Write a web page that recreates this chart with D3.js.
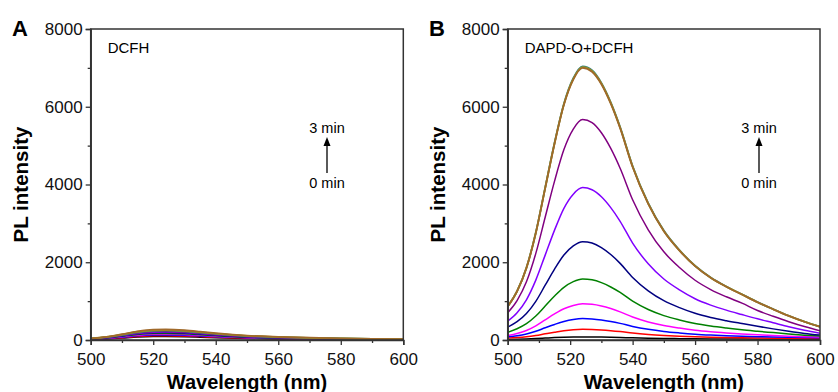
<!DOCTYPE html>
<html>
<head>
<meta charset="utf-8">
<script src="https://cdn.jsdelivr.net/npm/d3@7"></script>
<style>
  html, body { margin: 0; padding: 0; background: #fff; }
  svg { display: block; font-family: "Liberation Sans", Arial, sans-serif; }
</style>
</head>
<body>
<svg id="chart" width="838" height="392"></svg>
<script>
// ---- Data -------------------------------------------------------------
const yTicks = [0, 2000, 4000, 6000, 8000];
const xTicks = [500, 520, 540, 560, 580, 600];

// Panel A: DCFH alone, spectra recorded 0 -> 3 min
const wavelengthsA = [500, 505, 510, 515, 520, 524, 530, 535, 540, 550, 560, 570, 580, 590, 600];
const dcfhBlack   = [14, 27, 50, 75, 88, 90, 84, 72, 59, 38, 27, 20, 14, 10, 7];
const dcfhRed     = [17, 33, 61, 91, 108, 110, 102, 88, 72, 46, 33, 24, 18, 12, 9];
const dcfhBlue    = [20, 39, 72, 108, 127, 130, 121, 104, 85, 55, 39, 29, 21, 14, 10];
const dcfhMagenta = [23, 45, 83, 125, 147, 150, 140, 120, 98, 63, 45, 33, 24, 17, 12];
const dcfhGreen   = [26, 51, 94, 141, 167, 170, 158, 136, 111, 71, 51, 37, 27, 19, 14];
const dcfhNavy    = [29, 57, 105, 158, 186, 190, 177, 152, 124, 80, 57, 42, 30, 21, 15];
const dcfhViolet  = [31, 62, 113, 170, 201, 205, 191, 164, 133, 86, 62, 45, 33, 23, 16];
const dcfhPurple  = [33, 66, 121, 183, 216, 220, 205, 176, 143, 92, 66, 48, 35, 24, 18];
const dcfhTeal    = [36, 72, 132, 199, 235, 240, 223, 192, 156, 101, 72, 53, 38, 26, 19];
const dcfhOlive   = [38, 77, 140, 212, 250, 255, 237, 204, 166, 107, 77, 56, 41, 28, 20];
const dcfhBrown   = [41, 81, 149, 224, 265, 270, 251, 216, 176, 113, 81, 59, 43, 30, 22];

// Panel B: DAPD-O + DCFH, spectra recorded 0 -> 3 min
const wavelengthsB = [500, 503, 506, 509, 512, 515, 518, 521, 524, 527, 530, 533, 536,
                      540, 545, 550, 555, 560, 565, 570, 575, 580, 585, 590, 595, 600];
const mixBlack   = [15, 20, 28, 38, 50, 62, 72, 78, 80, 79, 76, 71, 65, 56, 47, 40, 35, 30, 27, 25, 23, 21, 20, 19, 18, 17];
const mixRed     = [50, 62, 82, 115, 158, 200, 238, 263, 275, 271, 259, 240, 216, 178, 142, 116, 97, 82, 71, 63, 56, 51, 47, 44, 41, 39];
const mixBlue    = [85, 110, 155, 225, 315, 400, 475, 526, 550, 542, 517, 478, 428, 350, 275, 220, 181, 149, 126, 108, 95, 85, 77, 70, 64, 60];
const mixMagenta = [114, 166, 246, 365, 518, 671, 804, 890, 930, 917, 874, 808, 724, 591, 465, 372, 306, 252, 213, 182, 155, 135, 115, 98, 85, 75];
const mixGreen   = [198, 290, 420, 617, 874, 1132, 1356, 1502, 1570, 1548, 1476, 1364, 1223, 999, 785, 628, 517, 425, 360, 308, 262, 225, 190, 155, 125, 100];
const mixNavy    = [330, 470, 680, 994, 1409, 1824, 2186, 2421, 2530, 2495, 2378, 2199, 1971, 1609, 1265, 1012, 832, 686, 579, 496, 423, 352, 286, 225, 170, 126];
const mixViolet  = [485, 702, 1035, 1541, 2183, 2826, 3387, 3751, 3920, 3865, 3685, 3406, 3054, 2493, 1960, 1568, 1290, 1062, 898, 768, 655, 545, 443, 340, 250, 172];
const mixPurple  = [700, 1015, 1497, 2228, 3158, 4088, 4899, 5426, 5670, 5591, 5330, 4927, 4417, 3606, 2835, 2268, 1865, 1537, 1298, 1111, 947, 760, 610, 470, 345, 235];
const mixTeal    = [865, 1258, 1860, 2765, 3920, 5075, 6080, 6735, 7040, 6940, 6615, 6115, 5480, 4475, 3520, 2815, 2312, 1910, 1608, 1377, 1176, 975, 795, 624, 473, 342];
const mixOlive   = [862, 1254, 1855, 2757, 3910, 5062, 6065, 6718, 7020, 6920, 6598, 6098, 5465, 4462, 3510, 2807, 2306, 1905, 1604, 1373, 1173, 972, 792, 622, 471, 341];
const mixBrown   = [860, 1250, 1850, 2750, 3900, 5050, 6050, 6700, 7000, 6900, 6580, 6080, 5450, 4450, 3500, 2800, 2300, 1900, 1600, 1370, 1170, 970, 790, 620, 470, 340];

const seriesColors = ["#000000", "#ff0000", "#0000ff", "#ff00ff", "#008000", "#000080",
                      "#8000ff", "#800080", "#2f7f86", "#9a9a20", "#a0692a"];
const seriesA = [dcfhBlack, dcfhRed, dcfhBlue, dcfhMagenta, dcfhGreen, dcfhNavy,
                 dcfhViolet, dcfhPurple, dcfhTeal, dcfhOlive, dcfhBrown];
const seriesB = [mixBlack, mixRed, mixBlue, mixMagenta, mixGreen, mixNavy,
                 mixViolet, mixPurple, mixTeal, mixOlive, mixBrown];

// ---- Drawing ----------------------------------------------------------
const svg = d3.select("#chart");
const axisColor = "#333";

function drawPanel(cfg) {
  const x = d3.scaleLinear().domain([500, 600]).range([cfg.left, cfg.right]);
  const y = d3.scaleLinear().domain([0, 8000]).range([340, 29]);
  const g = svg.append("g");

  const clipId = "clip-" + cfg.letter;
  g.append("clipPath").attr("id", clipId)
    .append("rect")
    .attr("x", x(500)).attr("y", y(8000))
    .attr("width", x(600) - x(500)).attr("height", y(0) - y(8000));

  const line = d3.line()
    .x((d, i) => x(cfg.wavelengths[i]))
    .y(d => y(d))
    .curve(d3.curveMonotoneX);

  const curves = g.append("g").attr("clip-path", `url(#${clipId})`);
  cfg.series.forEach((vals, i) => {
    curves.append("path")
      .attr("d", line(vals))
      .attr("fill", "none")
      .attr("stroke", seriesColors[i])
      .attr("stroke-width", i >= 8 ? 1.8 : 1.5);
  });

  // frame
  g.append("rect")
    .attr("x", x(500)).attr("y", y(8000))
    .attr("width", x(600) - x(500)).attr("height", y(0) - y(8000))
    .attr("fill", "none").attr("stroke", axisColor).attr("stroke-width", 1.5);

  // bottom axis: major + minor ticks
  const xAxis = g.append("g").attr("transform", `translate(0,${y(0)})`)
    .call(d3.axisBottom(x).tickValues(xTicks).tickSize(5).tickPadding(7.5).tickFormat(d3.format("d")));
  g.append("g").attr("transform", `translate(0,${y(0)})`)
    .call(d3.axisBottom(x).tickValues(d3.range(510, 600, 20)).tickSize(3).tickFormat(""))
    .call(s => s.select(".domain").remove());

  const yAxis = g.append("g").attr("transform", `translate(${x(500)},0)`)
    .call(d3.axisLeft(y).tickValues(yTicks).tickSize(5).tickPadding(3).tickFormat(d3.format("d")));
  g.append("g").attr("transform", `translate(${x(500)},0)`)
    .call(d3.axisLeft(y).tickValues([1000, 3000, 5000, 7000]).tickSize(3).tickFormat(""))
    .call(s => s.select(".domain").remove());

  g.selectAll(".domain").attr("stroke", axisColor).attr("stroke-width", 1.5);
  g.selectAll(".tick line").attr("stroke", axisColor).attr("stroke-width", 1.3);
  g.selectAll(".tick text")
    .attr("fill", "#111")
    .style("font-size", "17px")
    .style("font-family", "'Liberation Sans', Arial, sans-serif");
  xAxis.selectAll(".tick text").attr("dy", "0.72em");

  // axis titles
  g.append("text")
    .attr("x", (x(500) + x(600)) / 2).attr("y", 388.5)
    .attr("text-anchor", "middle")
    .style("font-size", "20px").style("font-weight", "bold")
    .text("Wavelength (nm)");
  g.append("text")
    .attr("transform", `translate(${cfg.titleX},${(y(0) + y(8000)) / 2}) rotate(-90)`)
    .attr("text-anchor", "middle")
    .style("font-size", "20.5px").style("font-weight", "bold")
    .text("PL intensity");

  // panel letter
  g.append("text")
    .attr("x", cfg.letterX).attr("y", 36)
    .style("font-size", "22px").style("font-weight", "bold")
    .text(cfg.letter);

  // sample label
  g.append("text")
    .attr("x", cfg.left + 17).attr("y", 53)
    .style("font-size", "15px")
    .text(cfg.label);

  // time arrow annotation
  const ax = cfg.arrowX;
  g.append("text").attr("x", ax).attr("y", 133)
    .attr("text-anchor", "middle").style("font-size", "14.5px").text("3 min");
  g.append("text").attr("x", ax).attr("y", 188)
    .attr("text-anchor", "middle").style("font-size", "14.5px").text("0 min");
  g.append("line")
    .attr("x1", ax).attr("x2", ax).attr("y1", 173).attr("y2", 144)
    .attr("stroke", "#000").attr("stroke-width", 1.3);
  g.append("path")
    .attr("d", `M${ax},137 L${ax - 3.5},146 L${ax + 3.5},146 Z`)
    .attr("fill", "#000");
}

drawPanel({
  letter: "A", letterX: 12, titleX: 28, left: 90.7, right: 403.3,
  wavelengths: wavelengthsA, series: seriesA, label: "DCFH", arrowX: 327
});
drawPanel({
  letter: "B", letterX: 429, titleX: 445, left: 507.7, right: 820,
  wavelengths: wavelengthsB, series: seriesB, label: "DAPD-O+DCFH", arrowX: 759
});
</script>
</body>
</html>
